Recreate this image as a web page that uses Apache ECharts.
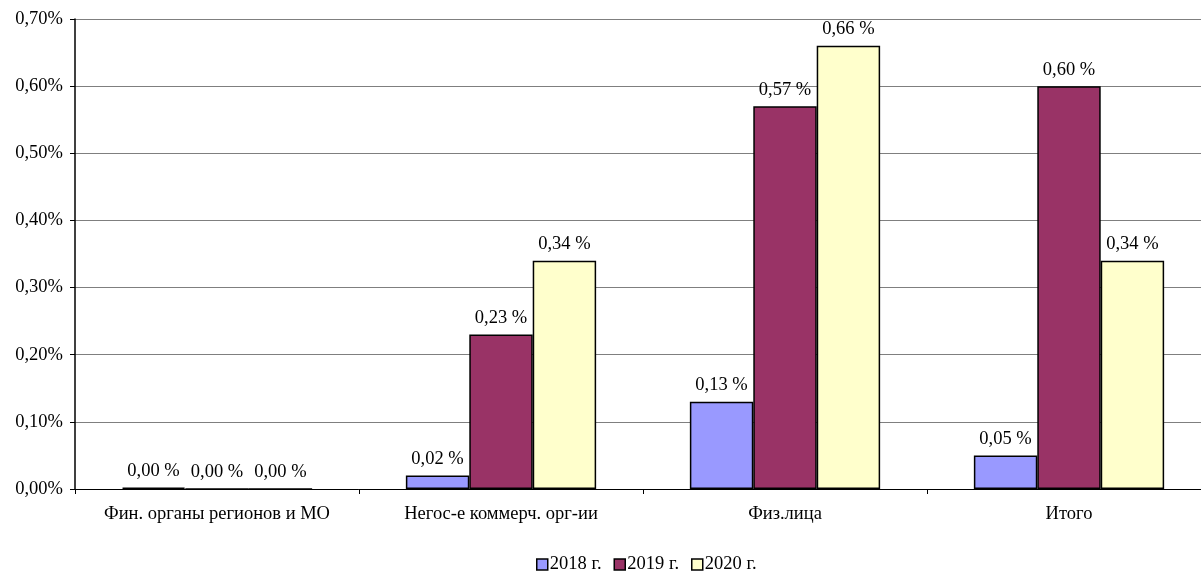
<!DOCTYPE html>
<html>
<head>
<meta charset="utf-8">
<script src="https://cdn.jsdelivr.net/npm/echarts@6/dist/echarts.min.js"></script>
<style>
  html, body { margin: 0; padding: 0; background: #fff; overflow: hidden; }
  #chart { width: 1211px; height: 571px; }
</style>
</head>
<body>
<div id="chart"></div>
<script>
// Доля по категориям получателей, %
const categories = ['Фин. органы регионов и МО', 'Негос-е коммерч. орг-ии', 'Физ.лица', 'Итого'];
const seriesNames = ['2018 г.', '2019 г.', '2020 г.'];
const values2018 = [0.002, 0.02, 0.13, 0.05];
const values2019 = [0.00, 0.23, 0.57, 0.60];
const values2020 = [0.00, 0.34, 0.66, 0.34];
const colors = ['#9999FF', '#993366', '#FFFFCC'];

const FONT = '"Liberation Serif", "Times New Roman", serif';
const FS = 18.5;
const fmtAxis = v => v.toFixed(2).replace('.', ',') + '%';
const fmtLabel = v => v.toFixed(2).replace('.', ',') + ' %';

const chart = echarts.init(document.getElementById('chart'), null, { renderer: 'canvas' });

const makeSeries = (name, data, color) => ({
  name,
  type: 'bar',
  data,
  barGap: '0%',
  barCategoryGap: '33%',
  itemStyle: { color, borderColor: '#000', borderWidth: 1.5 },
  label: {
    show: true,
    position: 'top',
    distance: 7,
    color: '#000',
    fontFamily: FONT,
    fontSize: FS,
    formatter: p => fmtLabel(p.value)
  }
});

chart.setOption({
  animation: false,
  backgroundColor: '#fff',
  textStyle: { fontFamily: FONT },
  grid: { left: 75, right: 0, top: 19, bottom: 82, containLabel: false },
  legend: {
    top: 555,
    left: 536,
    padding: 0,
    itemWidth: 11,
    itemHeight: 11,
    itemGap: 12,
    icon: 'rect',
    itemStyle: { borderColor: '#000', borderWidth: 1.5 },
    textStyle: { fontFamily: FONT, fontSize: FS, color: '#000', padding: [0, 0, 0, -3] },
    data: seriesNames
  },
  xAxis: {
    type: 'category',
    data: categories,
    axisLine: { lineStyle: { color: '#000', width: 1 } },
    axisTick: { show: true, length: 5, lineStyle: { color: '#000' } },
    axisLabel: { interval: 0, fontFamily: FONT, fontSize: FS, color: '#000', margin: 16 }
  },
  yAxis: {
    type: 'value',
    min: 0,
    max: 0.7,
    interval: 0.1,
    axisLine: { show: true, lineStyle: { color: '#000', width: 1.5 } },
    axisTick: { show: true, length: 5, lineStyle: { color: '#000' } },
    splitLine: { lineStyle: { color: '#7f7f7f', width: 1 } },
    axisLabel: { fontFamily: FONT, fontSize: FS, color: '#000', margin: 12, formatter: fmtAxis }
  },
  series: [
    makeSeries(seriesNames[0], values2018, colors[0]),
    makeSeries(seriesNames[1], values2019, colors[1]),
    makeSeries(seriesNames[2], values2020, colors[2])
  ]
});
</script>
</body>
</html>
